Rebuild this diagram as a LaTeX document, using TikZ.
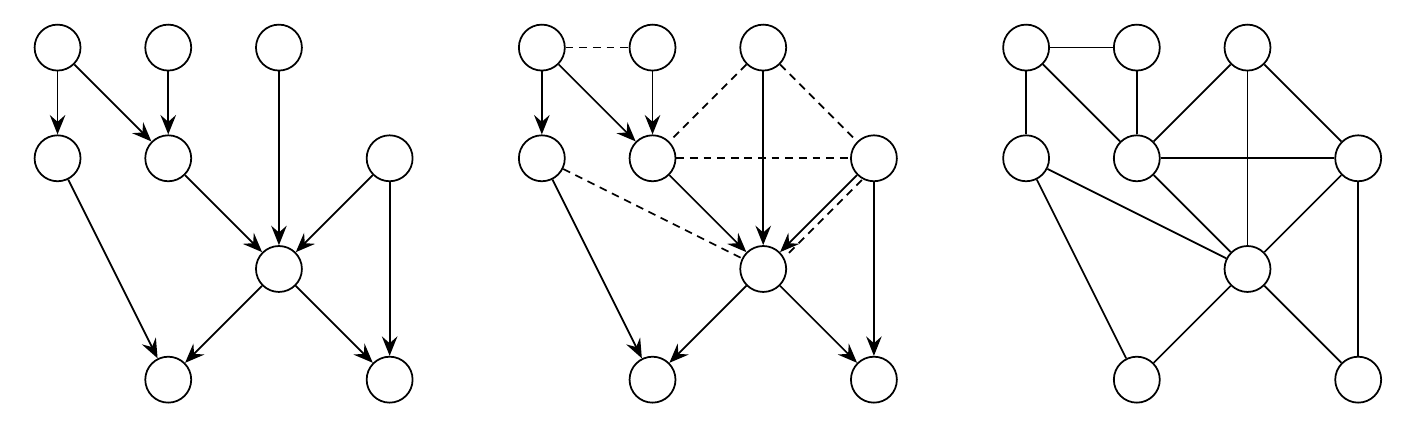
\documentclass[tikz,border=0pt]{standalone}
\usetikzlibrary{arrows.meta}

\begin{document}
\begin{tikzpicture}[
    line width = 0.9pt,
    vert/.style = {draw, circle, minimum size = 0.83cm, inner sep = 0pt},
    arc/.style = {-{Stealth[length = 10pt, width = 8pt, inset = 3.5pt]}},
    moral/.style = {dash pattern = on 4pt off 3pt}
]
        \useasboundingbox (-1.04, -6.94) rectangle (24.40, 0.86);

        % directed graph
        \node[vert] (a1) at (0, 0) {};
        \node[vert] (a2) at (2, 0) {};
        \node[vert] (a3) at (4, 0) {};
        \node[vert] (b1) at (0, -2) {};
        \node[vert] (b2) at (2, -2) {};
        \node[vert] (b5) at (6, -2) {};
        \node[vert] (c) at (4, -4) {};
        \node[vert] (d1) at (2, -6) {};
        \node[vert] (d2) at (6, -6) {};
        \draw[arc] (a1) -- (b1);
        \draw[arc] (a1) -- (b2);
        \draw[arc] (a2) -- (b2);
        \draw[arc] (a3) -- (c);
        \draw[arc] (b2) -- (c);
        \draw[arc] (b5) -- (c);
        \draw[arc] (b1) -- (d1);
        \draw[arc] (c) -- (d1);
        \draw[arc] (c) -- (d2);
        \draw[arc] (b5) -- (d2);

        % parents married
        \node[vert] (ma1) at (8.75, 0) {};
        \node[vert] (ma2) at (10.75, 0) {};
        \node[vert] (ma3) at (12.75, 0) {};
        \node[vert] (mb1) at (8.75, -2) {};
        \node[vert] (mb2) at (10.75, -2) {};
        \node[vert] (mb5) at (14.75, -2) {};
        \node[vert] (mc) at (12.75, -4) {};
        \node[vert] (md1) at (10.75, -6) {};
        \node[vert] (md2) at (14.75, -6) {};
        \draw[arc] (ma1) -- (mb1);
        \draw[arc] (ma1) -- (mb2);
        \draw[arc] (ma2) -- (mb2);
        \draw[arc] (ma3) -- (mc);
        \draw[arc] (mb2) -- (mc);
        \draw[arc] (mb5) -- (mc);
        \draw[arc] (mb1) -- (md1);
        \draw[arc] (mc) -- (md1);
        \draw[arc] (mc) -- (md2);
        \draw[arc] (mb5) -- (md2);
        \draw[moral] (ma1) -- (ma2);
        \draw[moral] (ma3) -- (mb2);
        \draw[moral] (ma3) -- (mb5);
        \draw[moral] (mb2) -- (mb5);
        \draw[moral] (mb1) -- (mc);
        \draw[moral, transform canvas = {xshift = 2.5pt, yshift = -2.5pt}] (mb5) -- (mc);

        % moral graph
        \node[vert] (ua1) at (17.5, 0) {};
        \node[vert] (ua2) at (19.5, 0) {};
        \node[vert] (ua3) at (21.5, 0) {};
        \node[vert] (ub1) at (17.5, -2) {};
        \node[vert] (ub2) at (19.5, -2) {};
        \node[vert] (ub5) at (23.5, -2) {};
        \node[vert] (uc) at (21.5, -4) {};
        \node[vert] (ud1) at (19.5, -6) {};
        \node[vert] (ud2) at (23.5, -6) {};
        \draw (ua1) -- (ua2);
        \draw (ua1) -- (ub1);
        \draw (ua1) -- (ub2);
        \draw (ua2) -- (ub2);
        \draw (ua3) -- (ub2);
        \draw (ua3) -- (uc);
        \draw (ua3) -- (ub5);
        \draw (ub2) -- (ub5);
        \draw (ub2) -- (uc);
        \draw (ub5) -- (uc);
        \draw (ub1) -- (uc);
        \draw (ub1) -- (ud1);
        \draw (uc) -- (ud1);
        \draw (uc) -- (ud2);
        \draw (ub5) -- (ud2);

    \end{tikzpicture}
\end{document}
